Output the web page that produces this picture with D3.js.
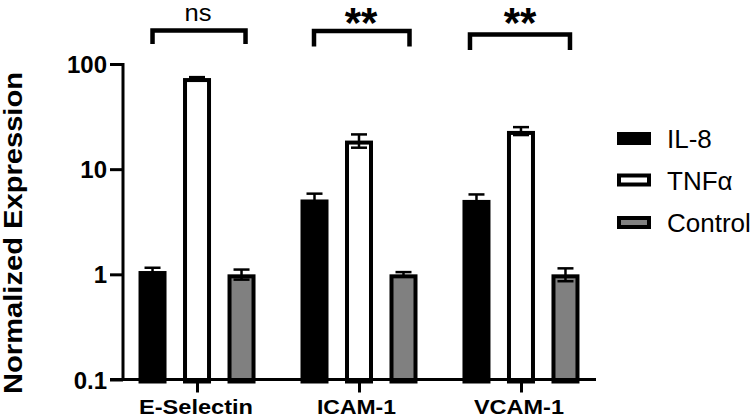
<!DOCTYPE html>
<html>
<head>
<meta charset="utf-8">
<script src="https://cdn.jsdelivr.net/npm/d3@7"></script>
<style>
  html, body { margin: 0; padding: 0; background: #fff; }
  svg { display: block; }
  text { font-family: "Liberation Sans", Arial, Helvetica, sans-serif; fill: #000; }
</style>
</head>
<body>
<svg id="chart" width="750" height="418"></svg>
<script>
// ---- data ----
const categories = ["E-Selectin", "ICAM-1", "VCAM-1"];
const series = ["IL-8", "TNFα", "Control"];
const il8Values = [1.075, 5.15, 5.1];
const il8Errors = [0.08, 0.7, 0.65];
const tnfValues = [73.5, 18.7, 23.1];
const tnfErrors = [1.5, 2.7, 2.0];
const controlValues = [1.0, 1.0, 1.0];
const controlErrors = [0.11, 0.05, 0.14];
const significance = ["ns", "**", "**"];
const yTicks = [0.1, 1, 10, 100];
const yTickLabels = ["0.1", "1", "10", "100"];

const seriesValues = [il8Values, tnfValues, controlValues];
const seriesErrors = [il8Errors, tnfErrors, controlErrors];
const fills = ["#000000", "#ffffff", "#808080"];

const svg = d3.select("#chart");
const sw = 4;

const x = d3.scalePoint().domain(categories).range([123, 595]).padding(0.457);
const xs = d3.scalePoint().domain(series).range([-44.5, 44.5]);
const y = d3.scaleLog().domain([0.1, 100]).range([379.5, 64]);
const barW = 28;

// bars
const rows = [];
categories.forEach((c, i) => {
  series.forEach((s, j) => {
    rows.push({ c, s, j, v: seriesValues[j][i], e: seriesErrors[j][i] });
  });
});

const g = svg.append("g");
g.selectAll("rect.bar").data(rows).enter().append("rect")
  .attr("class", "bar")
  .attr("x", d => x(d.c) + xs(d.s) - barW / 2 + sw / 2)
  .attr("y", d => y(d.v) + sw / 2)
  .attr("width", barW - sw)
  .attr("height", d => y(0.1) - y(d.v) - sw / 2 + 2)
  .attr("fill", d => fills[d.j])
  .attr("stroke", "#000")
  .attr("stroke-width", sw);

// error bars
const eb = g.selectAll("g.err").data(rows).enter().append("g")
  .attr("stroke", "#000").attr("stroke-width", 2.5);
eb.append("line")
  .attr("x1", d => x(d.c) + xs(d.s)).attr("x2", d => x(d.c) + xs(d.s))
  .attr("y1", d => y(d.v + d.e)).attr("y2", d => y(Math.max(d.v - d.e, 0.11)));
eb.append("line")
  .attr("x1", d => x(d.c) + xs(d.s) - 8).attr("x2", d => x(d.c) + xs(d.s) + 8)
  .attr("y1", d => y(d.v + d.e)).attr("y2", d => y(d.v + d.e));
eb.append("line")
  .attr("x1", d => x(d.c) + xs(d.s) - 8).attr("x2", d => x(d.c) + xs(d.s) + 8)
  .attr("y1", d => y(d.v - d.e)).attr("y2", d => y(d.v - d.e));

// y axis
const yAxis = d3.axisLeft(y).tickValues(yTicks)
  .tickFormat((d, i) => yTickLabels[i]).tickSize(13).tickPadding(3);
const ya = svg.append("g").attr("transform", "translate(123,0)").call(yAxis);
ya.select(".domain").remove();
ya.append("line").attr("x1", 0).attr("x2", 0).attr("y1", 63).attr("y2", 381)
  .attr("stroke", "#000").attr("stroke-width", 3);
ya.selectAll(".tick line").attr("stroke", "#000").attr("stroke-width", 3);
ya.selectAll(".tick text")
  .style("font-family", '"Liberation Sans", Arial, sans-serif')
  .style("font-weight", "bold").style("font-size", "24px").attr("fill", "#000")
  .attr("dy", "0.36em");

// x axis
const xAxis = d3.axisBottom(x).tickSize(13).tickFormat("");
const xa = svg.append("g").attr("transform", "translate(0,379.5)").call(xAxis);
xa.select(".domain").remove();
xa.append("line").attr("x1", 110).attr("x2", 596).attr("y1", 0).attr("y2", 0)
  .attr("stroke", "#000").attr("stroke-width", 3);
xa.selectAll(".tick line").attr("stroke", "#000").attr("stroke-width", 3);

const catLen = [114, 79, 90];
svg.selectAll("text.cat").data(categories).enter().append("text")
  .attr("class", "cat")
  .attr("x", (d, i) => x(d) - [1, 2.5, 2][i])
  .attr("y", 414)
  .attr("text-anchor", "middle")
  .attr("textLength", (d, i) => catLen[i])
  .attr("lengthAdjust", "spacingAndGlyphs")
  .style("font-weight", "bold").style("font-size", "21px")
  .text(d => d);

// y label
svg.append("text")
  .attr("transform", "translate(22,233) rotate(-90)")
  .attr("text-anchor", "middle")
  .attr("textLength", 322)
  .attr("lengthAdjust", "spacingAndGlyphs")
  .style("font-weight", "bold").style("font-size", "25px")
  .text("Normalized Expression");

// significance brackets
const brTop = [30.5, 31, 34.5];
const brBot = [44, 46.5, 50];
const brL = [-44.5, -45, -51];
const brR = [48.5, 50.5, 49];
categories.forEach((c, i) => {
  const cx = x(c);
  svg.append("path")
    .attr("d", `M${cx + brL[i]},${brBot[i]} V${brTop[i]} H${cx + brR[i]} V${brBot[i]}`)
    .attr("fill", "none").attr("stroke", "#000").attr("stroke-width", 4.5);
  const lab = significance[i];
  if (lab === "ns") {
    svg.append("text").attr("x", cx + 1).attr("y", 21)
      .attr("text-anchor", "middle")
      .attr("textLength", 27).attr("lengthAdjust", "spacingAndGlyphs")
      .style("font-size", "23px").text(lab);
  } else {
    svg.append("text").attr("x", cx + [0, 2, -1][i]).attr("y", 37)
      .attr("text-anchor", "middle").style("font-size", "42px")
      .style("font-weight", "bold").text(lab);
  }
});

// legend
const legY = [138.5, 180, 222.5];
const leg = svg.selectAll("g.leg").data(series).enter().append("g")
  .attr("transform", (d, i) => `translate(617,${legY[i]})`);
leg.append("rect")
  .attr("x", sw / 2).attr("y", -6.5 + sw / 2)
  .attr("width", 34 - sw).attr("height", 13 - sw)
  .attr("fill", (d, i) => fills[i]).attr("stroke", "#000").attr("stroke-width", sw);
leg.append("text").attr("x", 50).attr("y", 9.5)
  .style("font-size", "26px").text(d => d);
</script>
</body>
</html>
